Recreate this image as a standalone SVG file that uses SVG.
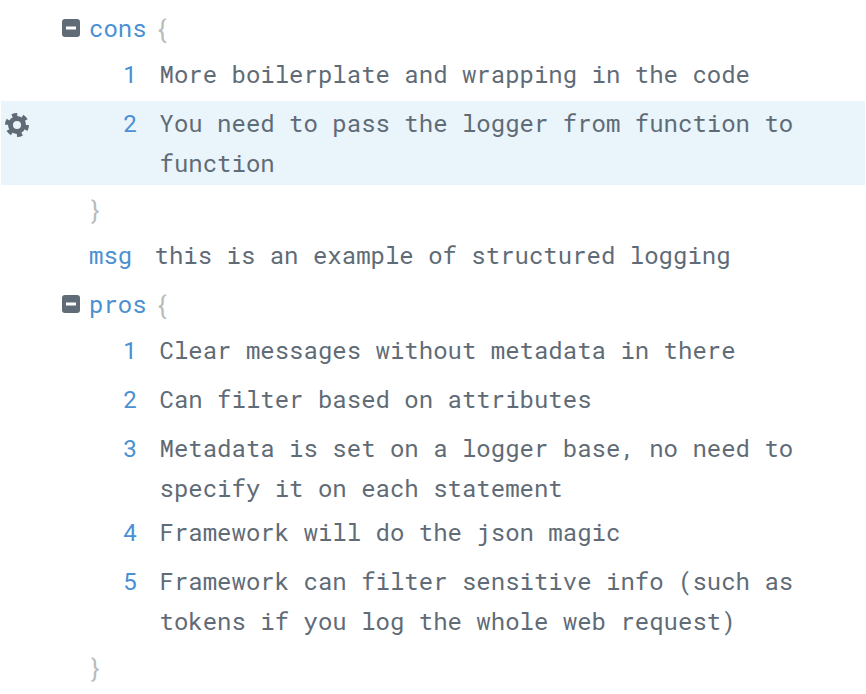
<svg xmlns="http://www.w3.org/2000/svg" width="866" height="694" viewBox="0 0 866 694">
<style>
text{white-space:pre}
.k{font-family:"Roboto Mono","DejaVu Sans Mono","Liberation Mono",monospace;font-size:24px;fill:#4a90d2}
.t{font-family:"Roboto Mono","DejaVu Sans Mono","Liberation Mono",monospace;font-size:24px;fill:#5f6b76}
.b{font-family:Roboto,"Liberation Sans",sans-serif;font-size:25px;fill:#b8bcbe}
.n{font-family:Roboto,"Liberation Sans",sans-serif;font-size:24px;fill:#4a90d2;text-anchor:middle}
</style>
<rect width="866" height="694" fill="#fff"/>
<rect x="1" y="101" width="864" height="84" fill="#e9f4fb"/>
<g id="gear"><circle cx="17" cy="125" r="6.500" fill="none" stroke="#5f6b76" stroke-width="5"/><circle cx="17" cy="125" r="10" fill="none" stroke="#5f6b76" stroke-width="4" stroke-dasharray="5.200 5.270"/></g>
<g id="cons"><rect x="62" y="19" width="18" height="18" rx="3" fill="#5f6b76"/><rect x="66" y="26.500" width="10" height="3" fill="#fff"/><text class="k" x="89" y="37">cons</text><text class="b" x="158" y="38">{</text></g>
<g id="c1"><text class="n" x="130" y="83">1</text><text class="t" x="159.500" y="83">More boilerplate and wrapping in the code</text></g>
<g id="c2"><text class="n" x="130" y="132">2</text><text class="t" x="159.500" y="132">You need to pass the logger from function to</text><text class="t" x="159.500" y="172">function</text></g>
<g id="cclose"><text class="b" x="91" y="219">}</text></g>
<g id="msg"><text class="k" x="89" y="264">msg</text><text class="t" x="154.500" y="264">this is an example of structured logging</text></g>
<g id="pros"><rect x="62" y="295" width="18" height="18" rx="3" fill="#5f6b76"/><rect x="66" y="302.500" width="10" height="3" fill="#fff"/><text class="k" x="89" y="313">pros</text><text class="b" x="158" y="314">{</text></g>
<g id="p1"><text class="n" x="130" y="359">1</text><text class="t" x="159.500" y="359">Clear messages without metadata in there</text></g>
<g id="p2"><text class="n" x="130" y="408">2</text><text class="t" x="159.500" y="408">Can filter based on attributes</text></g>
<g id="p3"><text class="n" x="130" y="457">3</text><text class="t" x="159.500" y="457">Metadata is set on a logger base, no need to</text><text class="t" x="159.500" y="497">specify it on each statement</text></g>
<g id="p4"><text class="n" x="130" y="541">4</text><text class="t" x="159.500" y="541">Framework will do the json magic</text></g>
<g id="p5"><text class="n" x="130" y="590">5</text><text class="t" x="159.500" y="590">Framework can filter sensitive info (such as</text><text class="t" x="159.500" y="630">tokens if you log the whole web request)</text></g>
<g id="pclose"><text class="b" x="91" y="677">}</text></g>
</svg>
